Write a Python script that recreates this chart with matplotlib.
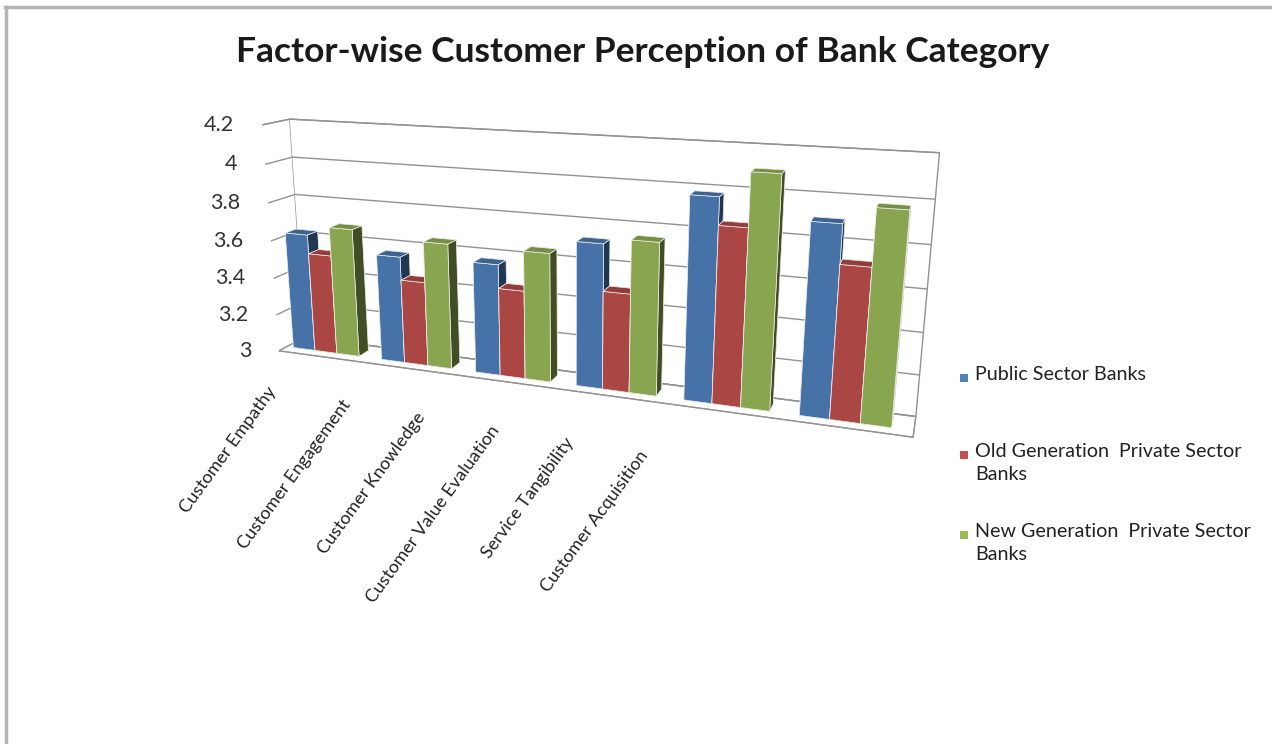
import numpy as np
import matplotlib.pyplot as plt
from matplotlib.lines import Line2D
from matplotlib.patches import Rectangle
from mpl_toolkits.mplot3d import proj3d

# -----------------------------
# Data
# -----------------------------
categories = ["Customer Empathy", "Customer Engagement", "Customer Knowledge",
              "Customer Value Evaluation", "Service Tangibility", "Customer Acquisition"]
public_sector = [3.63, 3.56, 3.57, 3.72, 3.98, 3.90]
old_private = [3.53, 3.44, 3.45, 3.49, 3.85, 3.72]
new_private = [3.68, 3.65, 3.65, 3.75, 4.10, 3.98]
series_names = ["Public Sector Banks",
                "Old Generation  Private Sector\nBanks",
                "New Generation  Private Sector\nBanks"]
colors = ["#4F81BD", "#C0504D", "#9BBB59"]
z_ticks = [3, 3.2, 3.4, 3.6, 3.8, 4, 4.2]
z_ticklabels = ["3", "3.2", "3.4", "3.6", "3.8", "4", "4.2"]

plt.rcParams['font.family'] = ['Lato', 'DejaVu Sans']

W, H = 1272, 744
fig = plt.figure(figsize=(W / 100, H / 100), dpi=100)
fig.patch.set_facecolor('white')

# -----------------------------
# 3D column chart
# -----------------------------
ax = fig.add_axes([0.054, 0.287, 0.78, 0.70], projection='3d',
                  proj_type='persp', focal_length=0.38)
ax.view_init(elev=15, azim=-70)
ax.computed_zorder = False

base = 3.0
width = 0.25
depth = 0.4
x = np.arange(len(categories))
series = [public_sector, old_private, new_private]

# draw left to right, blue -> red -> green, so nearer bars paint last
order = 1
for i in range(len(categories)):
    for k, vals in enumerate(series):
        bar = ax.bar3d(x[i] + (k - 1) * width - width / 2, 0.5 - depth / 2, base,
                       width, depth, vals[i] - base,
                       color=colors[k], shade=True, edgecolor='#f4f4f4', linewidth=0.5)
        bar.set_zorder(order)
        bar.set_clip_on(False)
        order += 1

ax.set_xlim(-0.45, len(categories) - 0.45)
ax.set_ylim(0, 1)
ax.set_zlim(3, 4.2)
ax.set_box_aspect((6.76, 0.5, 2.52), zoom=1.347)

# panes: white walls with grey edges
for axis in (ax.xaxis, ax.yaxis, ax.zaxis):
    axis.set_pane_color((1, 1, 1, 1))
    axis.pane.set_edgecolor('#929292')
    axis.line.set_color('#929292')
ax.zaxis.line.set_color((1, 1, 1, 0))

# only horizontal value gridlines
ax.grid(True)
ax.xaxis._axinfo['grid'].update(linewidth=0)
ax.yaxis._axinfo['grid'].update(linewidth=0)
ax.zaxis._axinfo['grid'].update(color='#929292', linewidth=1.0)

ax.set_xticks([])
ax.set_yticks([])
ax.set_zticks(z_ticks)
ax.set_zticklabels([])
ax.zaxis._axinfo['tick'].update(inward_factor=0, outward_factor=0)

# value labels beside the front edge of the left wall (placed after projecting)
fig.canvas.draw()
x0 = ax.get_xlim()[0]
for v, lab in zip(z_ticks, z_ticklabels):
    px, py, _ = proj3d.proj_transform(x0, 0, v, ax.get_proj())
    dx, dy = ax.transData.transform((px, py))
    fig.text((dx - 28) / W, dy / H, lab, ha='right', va='center',
             fontsize=15.5, color='#333333')

# category labels (Excel places them along the front floor edge)
for i, name in enumerate(categories):
    fig.text((266 + i * 74.5) / W, 1 - (384 + i * 12.8) / H, name,
             rotation=54, ha='right', va='top', rotation_mode='anchor',
             fontsize=13, color='#222222')

# -----------------------------
# Title
# -----------------------------
fig.text(643 / W, 1 - 52 / H, "Factor-wise Customer Perception of Bank Category",
         ha='center', va='center', fontsize=25.5, fontweight='bold', color='#1a1a1a')

# -----------------------------
# Legend (drawn by hand to mimic Excel spacing)
# -----------------------------
legend_y = [378, 455, 535]
for name, col, ly in zip(series_names, colors, legend_y):
    fig.patches.append(Rectangle((960 / W, 1 - (ly + 4) / H), 8 / W, 8 / H,
                                 transform=fig.transFigure, facecolor=col,
                                 edgecolor='none'))
    fig.text(975 / W, 1 - (ly - 12) / H, name, ha='left', va='top',
             fontsize=14.2, color='#222222', linespacing=1.4)

# chart area border (top and left visible)
fig.lines.append(Line2D([5 / W, 1], [1 - 7 / H, 1 - 7 / H], transform=fig.transFigure,
                        color='#b4b4b4', linewidth=2.5))
fig.lines.append(Line2D([6 / W, 6 / W], [0, 1 - 7 / H], transform=fig.transFigure,
                        color='#b4b4b4', linewidth=2.5))

fig.savefig("out.png", dpi=100)
